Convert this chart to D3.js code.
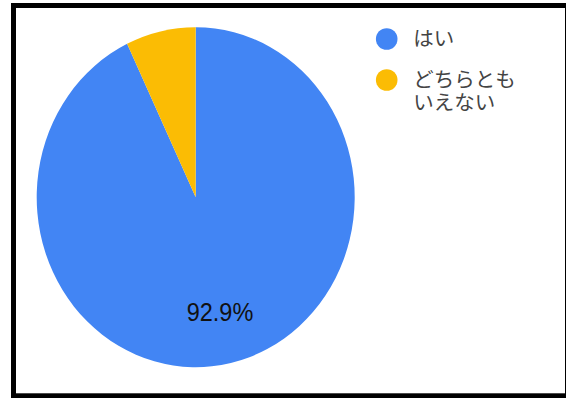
<!DOCTYPE html>
<html>
<head>
<meta charset="utf-8">
<script src="https://cdn.jsdelivr.net/npm/d3@7"></script>
<style>
  body { margin: 0; background: #fff; }
  svg { display: block; }
</style>
</head>
<body>
<div id="chart"></div>
<script>
// chart data
const categories = ['はい', 'どちらとも\nいえない'];
const values = [92.9, 7.1];
const colors = ['#4285F4', '#FBBC04'];

const width = 566, height = 398;

const svg = d3.select('#chart')
    .append('svg')
    .attr('width', width)
    .attr('height', height);

svg.append('rect')
    .attr('width', width)
    .attr('height', height)
    .style('fill', '#FFFFFF');

// frame around the chart
svg.append('rect')
    .attr('x', 13.5)
    .attr('y', 5.5)
    .attr('width', 554)
    .attr('height', 390.3)
    .style('fill', 'none')
    .style('stroke', '#000000')
    .style('stroke-width', 5);

// pie is a bit taller than wide in the reference
const cx = 195.7, cy = 197.2, r = 159, sy = 170 / 159;

const pie = d3.pie().sort(null).value(d => d);
const arcs = pie(values);
const arc = d3.arc().innerRadius(0).outerRadius(r);
const labelArc = d3.arc().innerRadius(r * 0.69).outerRadius(r * 0.69);

const g = svg.append('g')
    .attr('transform', 'translate(' + cx + ',' + cy + ') scale(1,' + sy + ')');

g.selectAll('path')
    .data(arcs)
    .enter()
    .append('path')
    .attr('d', arc)
    .style('fill', (d, i) => colors[i]);

// percentage label only for the big slice
arcs.forEach((d, i) => {
    if (d.value < 10) return;
    const c = labelArc.centroid(d);
    const ly = cy + c[1] * sy;
    svg.append('text')
        .attr('x', cx + c[0])
        .attr('y', ly)
        .attr('dy', '0.36em')
        .style('text-anchor', 'middle')
        .style('font-family', '"Liberation Sans", Arial, sans-serif')
        .style('font-size', '23.5px')
        .style('fill', '#111111')
        .attr('transform', 'translate(0,' + (-ly * 0.07) + ') scale(1,1.07)')
        .text(d.value.toFixed(1) + '%');
});

// legend
const legend = svg.append('g')
    .attr('transform', 'translate(386.7,39)');

categories.forEach((name, i) => {
    const item = legend.append('g')
        .attr('transform', 'translate(0,' + (i * 41) + ')');
    item.append('circle')
        .attr('r', 10.8)
        .style('fill', colors[i]);
    name.split('\n').forEach((line, j) => {
        item.append('text')
            .attr('x', 26.5)
            .attr('y', 7 + j * 22.5)
            .style('font-family', '"Noto Sans CJK JP", sans-serif')
            .style('font-size', '20.5px')
            .style('fill', '#444444')
            .text(line);
    });
});
</script>
</body>
</html>
